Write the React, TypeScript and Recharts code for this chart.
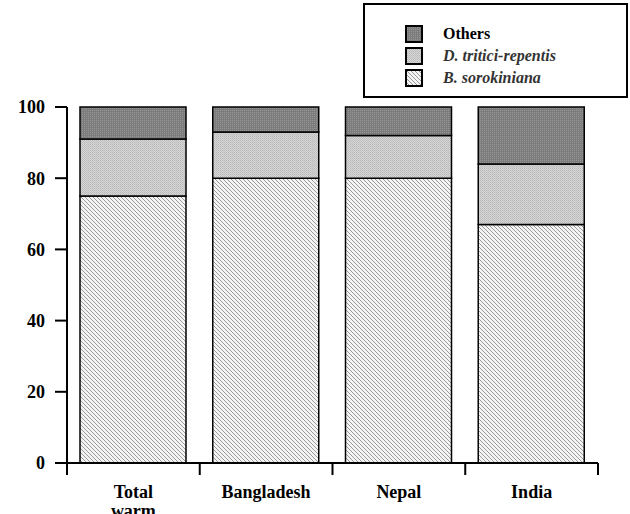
import React from "react";
import { Bar, BarChart, XAxis, YAxis } from "recharts";

const countries = ["Total warm", "Bangladesh", "Nepal", "India"];
const bSorokiniana = [75, 80, 80, 67];
const dTriticiRepentis = [16, 13, 12, 17];
const others = [9, 7, 8, 16];
const yTicks = [0, 20, 40, 60, 80, 100];

const series = [
  { key: "others", name: "Others", fill: "url(#patOthers)", italic: false, color: "#000" },
  { key: "dtr", name: "D. tritici-repentis", fill: "url(#patDtr)", italic: true, color: "#333" },
  { key: "bs", name: "B. sorokiniana", fill: "url(#patBs)", italic: true, color: "#333" },
];

const data = countries.map((c, i) => ({
  country: c,
  bs: bSorokiniana[i],
  dtr: dTriticiRepentis[i],
  others: others[i],
}));

const font = "'Liberation Serif', 'Times New Roman', serif";

function Patterns() {
  return (
    <defs>
      <pattern id="patOthers" width="2" height="2" patternUnits="userSpaceOnUse">
        <rect width="2" height="2" fill="#7c7c7c" />
        <rect width="1" height="1" fill="#959595" />
      </pattern>
      <pattern id="patDtr" width="2" height="2" patternUnits="userSpaceOnUse">
        <rect width="2" height="2" fill="#d6d6d6" />
        <rect width="1" height="1" fill="#b8b8b8" />
        <rect x="1" y="1" width="1" height="1" fill="#c2c2c2" />
      </pattern>
      <pattern id="patBs" width="4" height="4" patternUnits="userSpaceOnUse">
        <rect width="4" height="4" fill="#f4f4f4" />
        <rect x="0" y="0" width="1" height="1" fill="#9a9a9a" />
        <rect x="1" y="1" width="1" height="1" fill="#9a9a9a" />
        <rect x="2" y="2" width="1" height="1" fill="#9a9a9a" />
        <rect x="3" y="3" width="1" height="1" fill="#9a9a9a" />
      </pattern>
    </defs>
  );
}

// label plus tick marks on the category edges (not centers)
function CountryTick(props: any) {
  const { x, y, payload, index, visibleTicksCount } = props;
  const half = payload.offset ?? 0;
  const words = String(payload.value).split(" ");
  const axisY = y - 8;
  const last = index === (visibleTicksCount ?? countries.length) - 1;
  return (
    <g>
      <line x1={x - half} x2={x - half} y1={axisY} y2={axisY + 12} stroke="#000" strokeWidth={2} />
      {last && (
        <line x1={x + half} x2={x + half} y1={axisY} y2={axisY + 12} stroke="#000" strokeWidth={2} />
      )}
      <text
        x={x}
        y={axisY + 35}
        textAnchor="middle"
        fontFamily={font}
        fontWeight="bold"
        fontSize={18}
        fill="#000"
      >
        {words.map((w, i) => (
          <tspan key={i} x={x} dy={i === 0 ? 0 : 19}>
            {w}
          </tspan>
        ))}
      </text>
    </g>
  );
}

function LegendBox() {
  return (
    <div
      style={{
        position: "absolute",
        left: 363,
        top: 3,
        width: 261,
        height: 91,
        border: "2px solid #000",
        background: "#fff",
        fontFamily: font,
        fontWeight: "bold",
        fontSize: 16,
      }}
    >
      {series.map((s, i) => (
        <div
          key={s.key}
          style={{
            position: "absolute",
            left: 40,
            top: 19 + i * 22,
            height: 20,
            display: "flex",
            alignItems: "center",
          }}
        >
          <svg width={18} height={18} style={{ display: "block" }}>
            <rect x={1} y={1} width={16} height={16} fill={s.fill} stroke="#000" strokeWidth={2} />
          </svg>
          <span
            style={{
              marginLeft: 20,
              color: s.color,
              fontStyle: s.italic ? "italic" : "normal",
              whiteSpace: "nowrap",
            }}
          >
            {s.name}
          </span>
        </div>
      ))}
    </div>
  );
}

export default function App() {
  return (
    <div style={{ position: "absolute", left: 0, top: 0, width: 630, height: 514, background: "#fff", overflow: "hidden" }}>
      <BarChart
        width={630}
        height={514}
        data={data}
        margin={{ top: 107, right: 32, left: 0, bottom: 0 }}
        barSize={106}
      >
        <Patterns />
        <XAxis
          dataKey="country"
          height={51}
          axisLine={{ stroke: "#000", strokeWidth: 2 }}
          tickLine={false}
          interval={0}
          tick={<CountryTick />}
        />
        <YAxis
          width={67}
          domain={[0, 100]}
          ticks={yTicks}
          tickSize={12}
          tickMargin={10}
          axisLine={{ stroke: "#000", strokeWidth: 2 }}
          tickLine={{ stroke: "#000", strokeWidth: 2 }}
          tick={{ fontFamily: font, fontWeight: "bold", fontSize: 18, fill: "#000" }}
        />
        {[...series].reverse().map((s) => (
          <Bar
            key={s.key}
            dataKey={s.key}
            name={s.name}
            stackId="a"
            fill={s.fill}
            stroke="#000"
            strokeWidth={1.5}
            isAnimationActive={false}
          />
        ))}
      </BarChart>
      <LegendBox />
    </div>
  );
}
